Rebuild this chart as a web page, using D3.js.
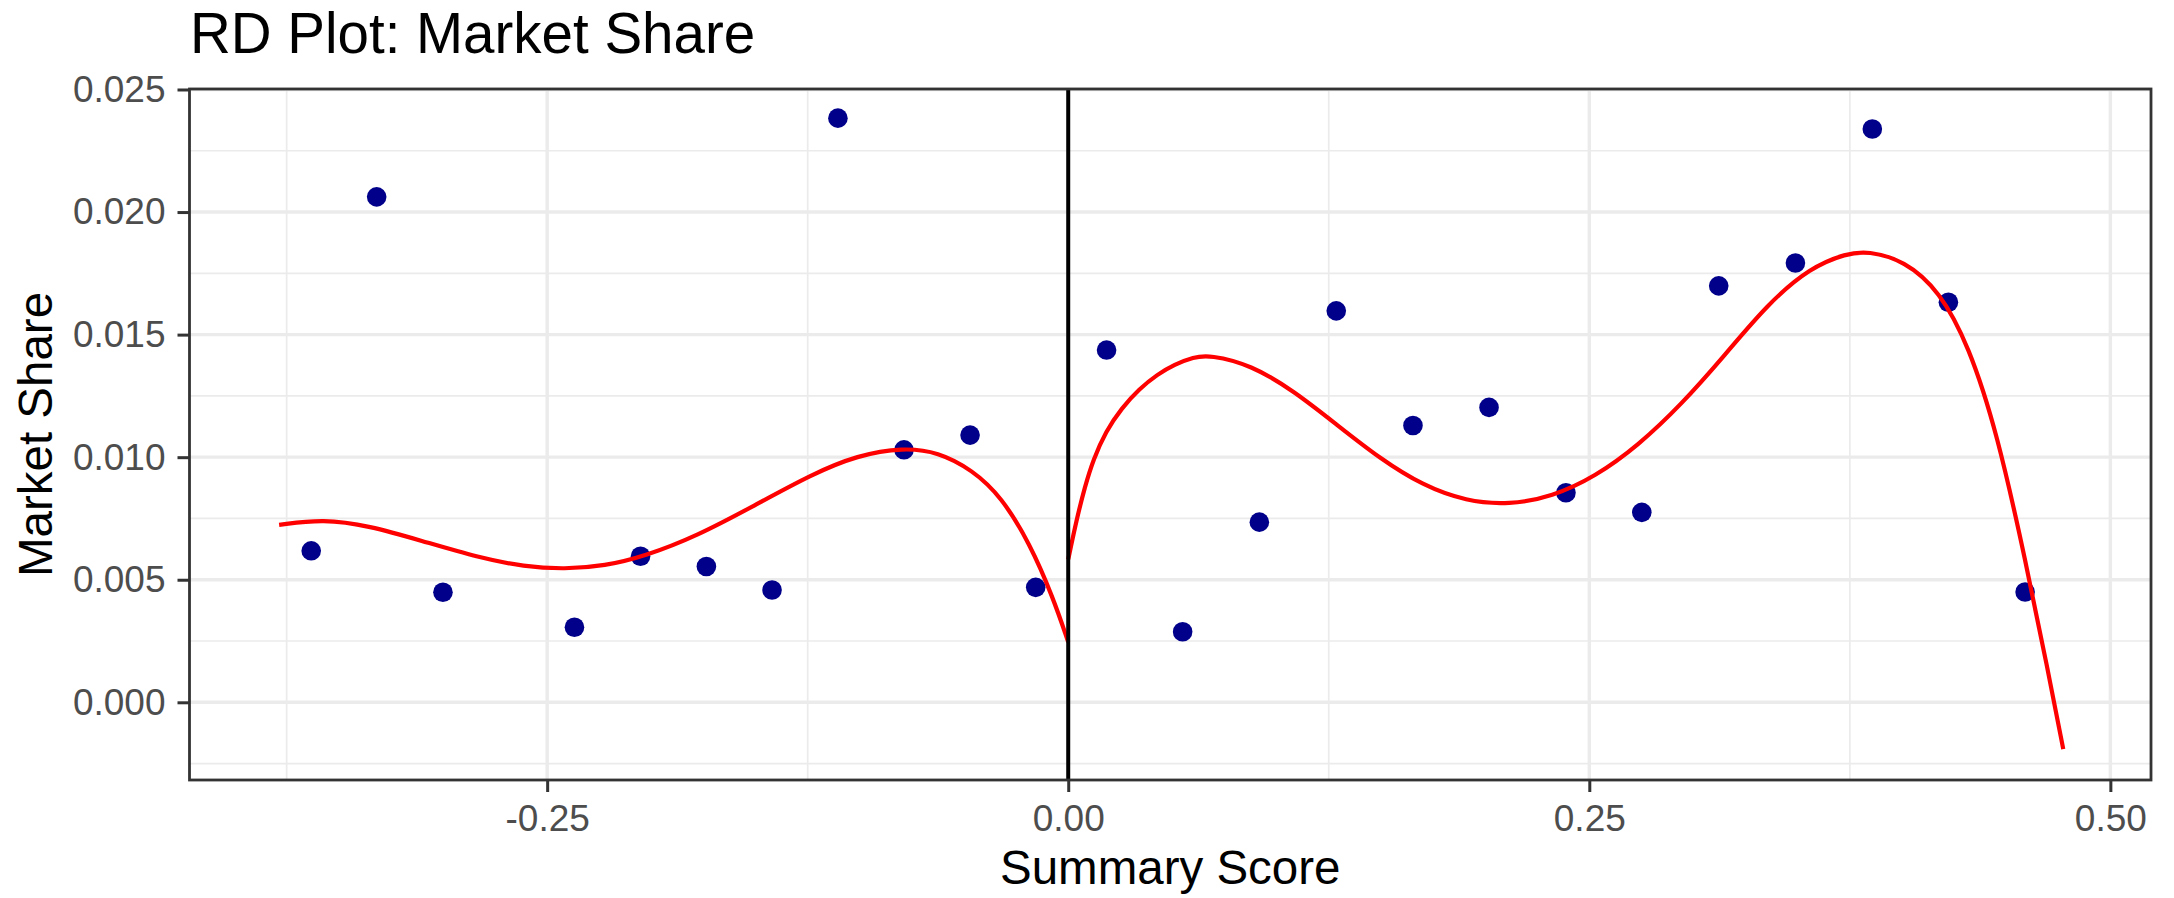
<!DOCTYPE html>
<html>
<head>
<meta charset="utf-8">
<script src="https://cdn.jsdelivr.net/npm/d3@7"></script>
<style>
  html, body { margin: 0; padding: 0; background: #ffffff; }
  svg { display: block; font-family: "Liberation Sans", Arial, Helvetica, sans-serif; }
</style>
</head>
<body>
<svg id="chart" width="2174" height="898"></svg>
<script>
// Binned means of market share, left of the cutoff
const leftBinX = [-0.3632, -0.3318, -0.3000, -0.2369, -0.2052, -0.1736, -0.1421, -0.1105, -0.0788, -0.0471, -0.0156];
const leftBinY = [0.00618, 0.02062, 0.00449, 0.00306, 0.00596, 0.00554, 0.00458, 0.02383, 0.01030, 0.01090, 0.00469];

// Binned means of market share, right of the cutoff
const rightBinX = [0.0184, 0.0549, 0.0917, 0.1286, 0.1654, 0.2019, 0.2388, 0.2752, 0.3121, 0.3489, 0.3858, 0.4223, 0.4591];
const rightBinY = [0.01437, 0.00288, 0.00735, 0.01597, 0.01129, 0.01203, 0.00855, 0.00775, 0.01699, 0.01792, 0.02339, 0.01632, 0.00450];

// Fitted curve, left side
const leftFitX = [-0.3786, -0.3574, -0.3354, -0.3106, -0.2830, -0.2609, -0.2416, -0.2224, -0.2031, -0.1782, -0.1507, -0.1231, -0.1011, -0.0790, -0.0625, -0.0460, -0.0321, -0.0184, -0.0073, 0.0];
const leftFitY = [0.00724, 0.00748, 0.00720, 0.00660, 0.00590, 0.00553, 0.00543, 0.00556, 0.00596, 0.00678, 0.00802, 0.00930, 0.01008, 0.01039, 0.01021, 0.00948, 0.00839, 0.00647, 0.00428, 0.00246];

// Fitted curve, right side
const rightFitX = [0.0, 0.004, 0.008, 0.012, 0.018, 0.0256, 0.034, 0.0428, 0.051, 0.060, 0.068, 0.0876, 0.1083, 0.1289, 0.1496, 0.1702, 0.1909, 0.2116, 0.2322, 0.2529, 0.2735, 0.2942, 0.3149, 0.3355, 0.3562, 0.3734, 0.3837, 0.4010, 0.4181, 0.4320, 0.4457, 0.4595, 0.4698, 0.4774];
const rightFitY = [0.00583, 0.00745, 0.00880, 0.00990, 0.01105, 0.01200, 0.01278, 0.01338, 0.01378, 0.01408, 0.01417, 0.01377, 0.01270, 0.01132, 0.00994, 0.00884, 0.00820, 0.00806, 0.00839, 0.00921, 0.01048, 0.01215, 0.01415, 0.01625, 0.01775, 0.01831, 0.01841, 0.01803, 0.01678, 0.01456, 0.01100, 0.00570, 0.00140, -0.00191];

// Axis ticks
const xMajorTicks = [-0.25, 0, 0.25, 0.50];
const xTickLabels = ["-0.25", "0.00", "0.25", "0.50"];
const xMinorTicks = [-0.375, -0.125, 0.125, 0.375];
const yMajorTicks = [0, 0.005, 0.010, 0.015, 0.020, 0.025];
const yTickLabels = ["0.000", "0.005", "0.010", "0.015", "0.020", "0.025"];
const yMinorTicks = [-0.0025, 0.0025, 0.0075, 0.0125, 0.0175, 0.0225];

const cutoff = 0;
const xDomain = [-0.4216, 0.5195];
const yDomain = [-0.00317, 0.02502];

const titleText = "RD Plot: Market Share";
const xTitle = "Summary Score";
const yTitle = "Market Share";

// Layout
const panel = { left: 189.5, right: 2151, top: 89, bottom: 780 };

const svg = d3.select("#chart");

const x = d3.scaleLinear().domain(xDomain).range([panel.left, panel.right]);
const y = d3.scaleLinear().domain(yDomain).range([panel.bottom, panel.top]);

const zip = (xs, ys) => xs.map((v, i) => ({ x: v, y: ys[i] }));

// Panel background
svg.append("rect")
  .attr("x", panel.left).attr("y", panel.top)
  .attr("width", panel.right - panel.left).attr("height", panel.bottom - panel.top)
  .attr("fill", "#ffffff");

const grid = svg.append("g");

// Minor grid
grid.selectAll(".xminor").data(xMinorTicks).enter().append("line")
  .attr("x1", d => x(d)).attr("x2", d => x(d))
  .attr("y1", panel.top).attr("y2", panel.bottom)
  .attr("stroke", "#EBEBEB").attr("stroke-width", 1.7);
grid.selectAll(".yminor").data(yMinorTicks).enter().append("line")
  .attr("x1", panel.left).attr("x2", panel.right)
  .attr("y1", d => y(d)).attr("y2", d => y(d))
  .attr("stroke", "#EBEBEB").attr("stroke-width", 1.7);

// Major grid
grid.selectAll(".xmajor").data(xMajorTicks).enter().append("line")
  .attr("x1", d => x(d)).attr("x2", d => x(d))
  .attr("y1", panel.top).attr("y2", panel.bottom)
  .attr("stroke", "#EBEBEB").attr("stroke-width", 3.4);
grid.selectAll(".ymajor").data(yMajorTicks).enter().append("line")
  .attr("x1", panel.left).attr("x2", panel.right)
  .attr("y1", d => y(d)).attr("y2", d => y(d))
  .attr("stroke", "#EBEBEB").attr("stroke-width", 3.4);

// Binned points
const pts = zip(leftBinX, leftBinY).concat(zip(rightBinX, rightBinY));
svg.append("g").selectAll("circle").data(pts).enter().append("circle")
  .attr("cx", d => x(d.x)).attr("cy", d => y(d.y))
  .attr("r", 9.8)
  .attr("fill", "#00008B");

// Fitted curves on each side of the cutoff
const line = d3.line().x(d => x(d.x)).y(d => y(d.y)).curve(d3.curveBasis);
[zip(leftFitX, leftFitY), zip(rightFitX, rightFitY)].forEach(seg => {
  svg.append("path")
    .attr("d", line(seg))
    .attr("fill", "none")
    .attr("stroke", "#FF0000")
    .attr("stroke-width", 4.2)
    .attr("stroke-linejoin", "round");
});

// Cutoff line
svg.append("line")
  .attr("x1", x(cutoff)).attr("x2", x(cutoff))
  .attr("y1", panel.top).attr("y2", panel.bottom)
  .attr("stroke", "#000000").attr("stroke-width", 4);

// Panel border
svg.append("rect")
  .attr("x", panel.left).attr("y", panel.top)
  .attr("width", panel.right - panel.left).attr("height", panel.bottom - panel.top)
  .attr("fill", "none").attr("stroke", "#333333").attr("stroke-width", 2.8);

// Axes
const xAxis = d3.axisBottom(x).tickValues(xMajorTicks)
  .tickFormat((d, i) => xTickLabels[i]).tickSize(12).tickPadding(13);
const gx = svg.append("g").attr("transform", `translate(0,${panel.bottom})`).call(xAxis);
gx.select(".domain").remove();
gx.selectAll(".tick line").attr("stroke", "#333333").attr("stroke-width", 3);
gx.selectAll(".tick text")
  .attr("fill", "#4D4D4D")
  .style("font-size", "37px")
  .style("font-family", "'Liberation Sans', Arial, Helvetica, sans-serif");

const yAxis = d3.axisLeft(y).tickValues(yMajorTicks)
  .tickFormat((d, i) => yTickLabels[i]).tickSize(12).tickPadding(12);
const gy = svg.append("g").attr("transform", `translate(${panel.left},0)`).call(yAxis);
gy.select(".domain").remove();
gy.selectAll(".tick line").attr("stroke", "#333333").attr("stroke-width", 3);
gy.selectAll(".tick text")
  .attr("fill", "#4D4D4D")
  .style("font-size", "37px")
  .style("font-family", "'Liberation Sans', Arial, Helvetica, sans-serif");

// Titles
svg.append("text")
  .attr("x", 190).attr("y", 53)
  .attr("fill", "#000000")
  .style("font-size", "56.5px")
  .text(titleText);

svg.append("text")
  .attr("x", (panel.left + panel.right) / 2).attr("y", 884)
  .attr("text-anchor", "middle")
  .attr("fill", "#000000")
  .style("font-size", "47.5px")
  .text(xTitle);

svg.append("text")
  .attr("transform", `translate(51.5,${(panel.top + panel.bottom) / 2}) rotate(-90)`)
  .attr("text-anchor", "middle")
  .attr("fill", "#000000")
  .style("font-size", "47.5px")
  .text(yTitle);
</script>
</body>
</html>
